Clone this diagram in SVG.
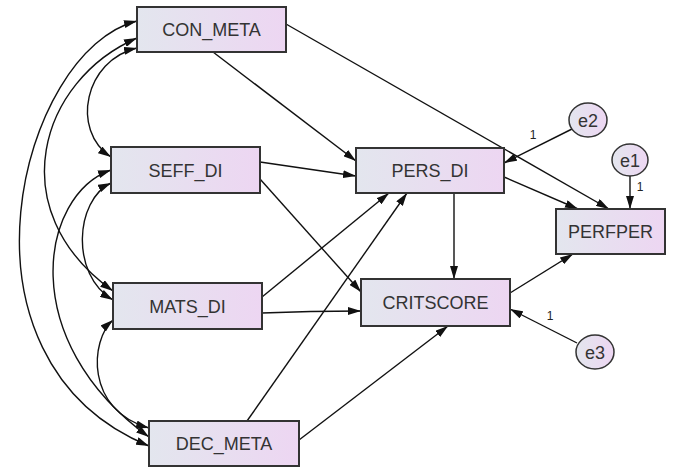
<svg xmlns="http://www.w3.org/2000/svg" width="674" height="468" viewBox="0 0 674 468">
<style>
.box{stroke:#333;stroke-width:2;fill:url(#g)}
.err{stroke:#333;stroke-width:1.5;fill:url(#g)}
.lbl{font-family:"Liberation Sans",Arial,sans-serif;font-size:18px;fill:#333;text-anchor:middle}
.one{font-family:"Liberation Sans",Arial,sans-serif;font-size:12px;fill:#222;text-anchor:middle}
.e{fill:none;stroke:#111;stroke-width:1.4;marker-end:url(#ah)}
.c{fill:none;stroke:#111;stroke-width:1.4;marker-start:url(#ah);marker-end:url(#ah)}
</style>
<defs>
<linearGradient id="g" x1="0" y1="0" x2="1" y2="0">
<stop offset="0" stop-color="#e3e6ee"/>
<stop offset="1" stop-color="#edd6f2"/>
</linearGradient>
<marker id="ah" viewBox="0 0 13 8" refX="13" refY="4" markerWidth="13" markerHeight="8" markerUnits="userSpaceOnUse" orient="auto-start-reverse">
<path d="M0,0 L13,4 L0,8 z" fill="#111"/>
</marker>
</defs>
<rect width="674" height="468" fill="#fff"/>
<g id="connectors">
<path class="c" d="M137,48 C85,60 70,130 111,157"/>
<path class="c" d="M137,38 C40,80 0,210 113,291"/>
<path class="c" d="M137,21 C20,50 -60,360 149,446"/>
<path class="c" d="M111,183 C75,200 70,275 113,300"/>
<path class="c" d="M111,170 C40,195 15,340 149,437"/>
<path class="c" d="M113,320 C90,340 85,410 149,428"/>
<line class="e" x1="213" y1="52" x2="356" y2="161"/>
<line class="e" x1="286" y1="24" x2="609" y2="209"/>
<line class="e" x1="260" y1="162" x2="356" y2="176"/>
<line class="e" x1="260" y1="179" x2="361" y2="292"/>
<line class="e" x1="262" y1="297" x2="389" y2="193"/>
<line class="e" x1="247" y1="421" x2="407" y2="193"/>
<path class="e" d="M262,313 Q310,311 361,311"/>
<line class="e" x1="299" y1="440" x2="448" y2="326"/>
<line class="e" x1="454" y1="193" x2="454" y2="279"/>
<line class="e" x1="504" y1="177" x2="578" y2="209"/>
<line class="e" x1="510" y1="293" x2="573" y2="254"/>
<line class="e" x1="572" y1="129" x2="504" y2="163"/>
<line class="e" x1="630" y1="176" x2="630" y2="209"/>
<line class="e" x1="577" y1="343" x2="510" y2="309"/>
<text class="one" x="533" y="139">1</text>
<text class="one" x="640" y="191">1</text>
<text class="one" x="550" y="320">1</text>
</g>
<g id="CON_META"><rect class="box" x="137" y="7" width="149" height="45"/><text class="lbl" x="211.5" y="36">CON_META</text></g>
<g id="SEFF_DI"><rect class="box" x="111" y="147" width="149" height="46"/><text class="lbl" x="185.5" y="176.5">SEFF_DI</text></g>
<g id="MATS_DI"><rect class="box" x="113" y="283" width="149" height="46"/><text class="lbl" x="187.5" y="312.5">MATS_DI</text></g>
<g id="DEC_META"><rect class="box" x="149" y="421" width="150" height="45"/><text class="lbl" x="224" y="450">DEC_META</text></g>
<g id="PERS_DI"><rect class="box" x="356" y="148" width="148" height="45"/><text class="lbl" x="430" y="177">PERS_DI</text></g>
<g id="PERFPER"><rect class="box" x="556" y="209" width="109" height="45"/><text class="lbl" x="610.5" y="238">PERFPER</text></g>
<g id="CRITSCORE"><rect class="box" x="361" y="279" width="149" height="47"/><text class="lbl" x="435.5" y="309">CRITSCORE</text></g>
<g id="e2"><ellipse class="err" cx="588" cy="120" rx="19" ry="17"/><text class="lbl" x="588" y="126.5">e2</text></g>
<g id="e1"><ellipse class="err" cx="630" cy="160" rx="18" ry="16"/><text class="lbl" x="630" y="166.5">e1</text></g>
<g id="e3"><ellipse class="err" cx="595" cy="352" rx="19" ry="17"/><text class="lbl" x="595" y="358.5">e3</text></g>
</svg>
